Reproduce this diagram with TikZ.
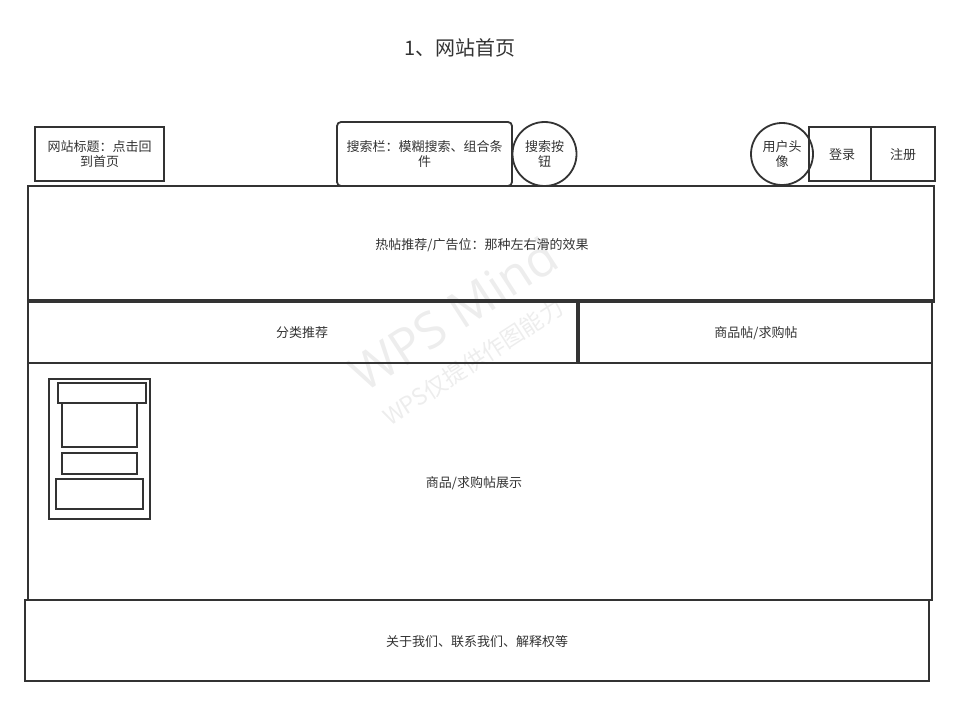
\documentclass[tikz,border=0pt]{standalone}
\usepackage{fontspec}
\newfontfamily\cjk{Noto Sans CJK SC}
\setsansfont{Open Sans}
\definecolor{ln}{HTML}{333333}
\definecolor{tx}{HTML}{333333}
\begin{document}
\begin{tikzpicture}[x=1pt,y=-1pt,
  bx/.style={draw=ln,line width=1.8pt},
  lbl/.style={font=\cjk\fontsize{13}{15}\selectfont,text=tx,align=center},
  wm/.style={text=black!7,rotate=33,inner sep=0pt}]
\useasboundingbox (0,0) rectangle (960,706);
% watermark
\node[wm,font=\sffamily\fontsize{50}{54}\selectfont] (wm1) at (453,314) {WPS Mind};
\node[wm,font=\cjk\fontsize{23}{26}\selectfont] (wm2) at (473,362) {WPS仅提供作图能力};
% title
\node[lbl,font=\cjk\fontsize{20}{24}\selectfont] (title) at (460,48) {1、网站首页};
% header
\draw[bx] (35,127) rectangle (164,181);
\node[lbl] (site) at (99.5,154) {网站标题：点击回\\到首页};
\draw[bx,rounded corners=4pt] (337,122) rectangle (512,186);
\node[lbl] (search) at (424.5,154) {搜索栏：模糊搜索、组合条\\件};
\draw[bx] (544.5,154) circle (32);
\node[lbl] (sbtn) at (544.5,154) {搜索按\\钮};
\draw[bx] (782,154) circle (31);
\node[lbl] (avatar) at (782,154) {用户头\\像};
\draw[bx] (809,127) rectangle (871,181);
\node[lbl] (login) at (842,155) {登录};
\draw[bx] (871,127) rectangle (935,181);
\node[lbl] (reg) at (903,155) {注册};
% hot
\draw[bx] (28,186) rectangle (934,302);
\node[lbl] (hot) at (482,245) {热帖推荐/广告位：那种左右滑的效果};
% categories
\draw[bx] (28,300) rectangle (577,363);
\node[lbl] (cat) at (302,333) {分类推荐};
\draw[bx] (579,300) rectangle (932,363);
\node[lbl] (posts) at (756,333) {商品帖/求购帖};
% display
\draw[bx] (28,363) rectangle (932,600);
\node[lbl] (disp) at (474,483) {商品/求购帖展示};
% card
\draw[bx] (49,379) rectangle (150,519);
\draw[bx] (62,403) rectangle (137,447);
\draw[bx] (58,383) rectangle (146,403);
\draw[bx] (62,453) rectangle (137,474);
\draw[bx] (56,479) rectangle (143,509);
% footer
\draw[bx] (25,600) rectangle (929,681);
\node[lbl] (foot) at (477,642) {关于我们、联系我们、解释权等};
\end{tikzpicture}
\end{document}
